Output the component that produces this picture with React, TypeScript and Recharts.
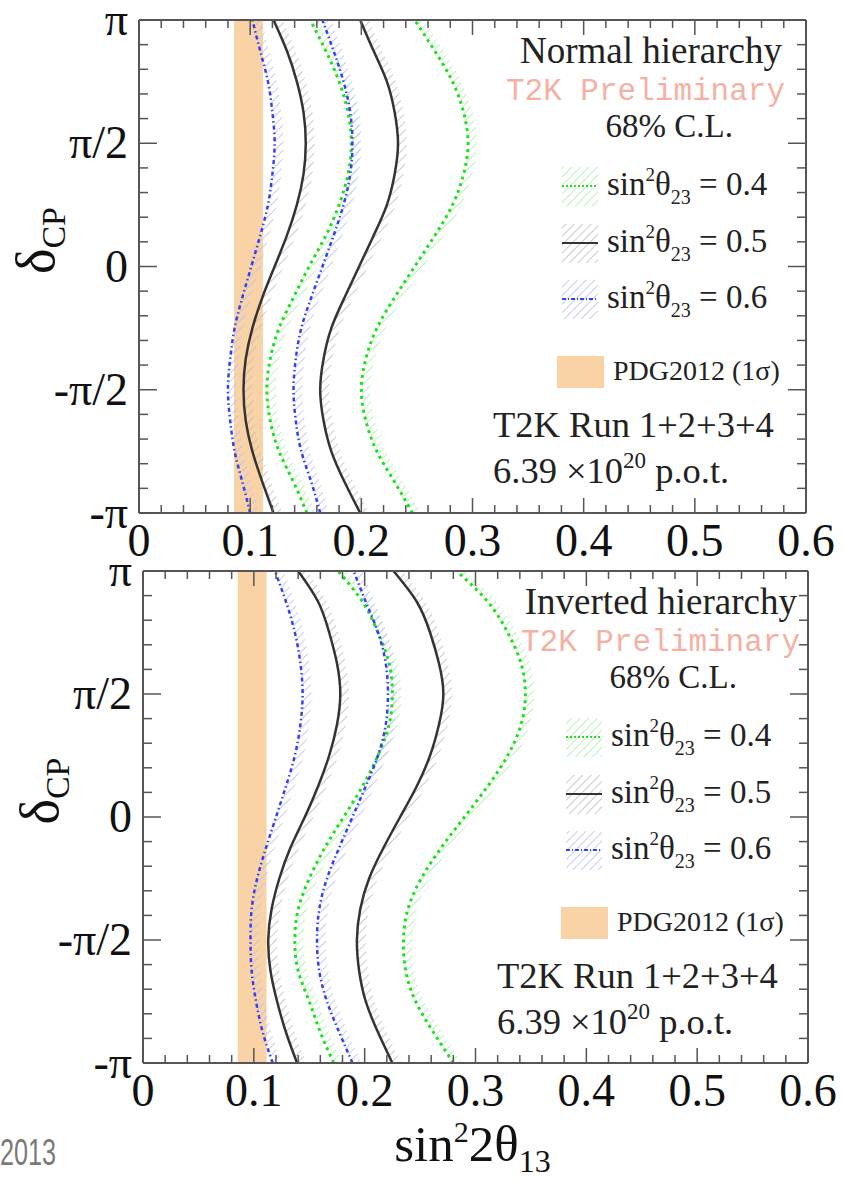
import React from 'react';
import { ComposedChart, Line, Area, XAxis, YAxis, ReferenceArea, Legend } from 'recharts';

// delta_CP sampling points (degrees, -180 = -pi, 180 = pi)
const deltaDeg = [-180, -157.5, -135, -112.5, -90, -67.5, -45, -22.5, 0, 22.5, 45, 67.5, 90, 112.5, 135, 157.5, 180];

// Normal hierarchy: 68% C.L. boundaries (sin^2 2theta13)
const nhGreenLeft = [0.151, 0.139, 0.126, 0.118, 0.115, 0.118, 0.126, 0.139, 0.153, 0.168, 0.180, 0.188, 0.191, 0.188, 0.180, 0.168, 0.154];
const nhGreenRight = [0.246, 0.230, 0.214, 0.204, 0.200, 0.204, 0.214, 0.230, 0.248, 0.266, 0.282, 0.292, 0.296, 0.292, 0.282, 0.266, 0.248];
const nhBlackLeft = [0.121, 0.111, 0.102, 0.096, 0.094, 0.096, 0.102, 0.111, 0.122, 0.133, 0.142, 0.148, 0.150, 0.148, 0.142, 0.133, 0.121];
const nhBlackRight = [0.199, 0.185, 0.173, 0.166, 0.163, 0.166, 0.173, 0.185, 0.198, 0.211, 0.223, 0.230, 0.233, 0.230, 0.223, 0.211, 0.199];
const nhBlueLeft = [0.100, 0.093, 0.086, 0.082, 0.080, 0.082, 0.086, 0.093, 0.101, 0.109, 0.116, 0.120, 0.122, 0.120, 0.116, 0.109, 0.102];
const nhBlueRight = [0.163, 0.155, 0.146, 0.141, 0.139, 0.141, 0.146, 0.155, 0.165, 0.175, 0.184, 0.190, 0.192, 0.190, 0.184, 0.175, 0.165];

// Inverted hierarchy
const ihGreenLeft = [0.172, 0.160, 0.150, 0.140, 0.137, 0.140, 0.150, 0.164, 0.181, 0.198, 0.212, 0.222, 0.225, 0.222, 0.212, 0.198, 0.176];
const ihGreenRight = [0.280, 0.262, 0.246, 0.237, 0.235, 0.239, 0.251, 0.269, 0.290, 0.311, 0.329, 0.341, 0.345, 0.341, 0.329, 0.311, 0.283];
const ihBlackLeft = [0.139, 0.129, 0.121, 0.115, 0.113, 0.116, 0.123, 0.133, 0.146, 0.158, 0.168, 0.175, 0.178, 0.175, 0.168, 0.158, 0.140];
const ihBlackRight = [0.225, 0.212, 0.201, 0.195, 0.193, 0.196, 0.204, 0.217, 0.232, 0.247, 0.259, 0.267, 0.271, 0.267, 0.259, 0.247, 0.226];
const ihBlueLeft = [0.117, 0.108, 0.102, 0.098, 0.097, 0.098, 0.103, 0.111, 0.120, 0.129, 0.137, 0.142, 0.144, 0.142, 0.137, 0.129, 0.119];
const ihBlueRight = [0.189, 0.177, 0.166, 0.159, 0.157, 0.159, 0.166, 0.177, 0.189, 0.201, 0.212, 0.219, 0.221, 0.219, 0.212, 0.201, 0.190];

// PDG2012 1 sigma band and hatched systematic band width
const pdgBand = [0.0855, 0.1115];
const hatchWidth = 0.008;

// ticks
const xMajorTicks = [0, 0.1, 0.2, 0.3, 0.4, 0.5, 0.6];
const xTickLabels = ['0', '0.1', '0.2', '0.3', '0.4', '0.5', '0.6'];
const xMinorTicks = [0.02, 0.04, 0.06, 0.08, 0.12, 0.14, 0.16, 0.18, 0.22, 0.24, 0.26, 0.28, 0.32, 0.34, 0.36, 0.38, 0.42, 0.44, 0.46, 0.48, 0.52, 0.54, 0.56, 0.58];
const yMajorTicks = [-180, -90, 0, 90, 180];
const yTickLabels = ['-\u03c0', '-\u03c0/2', '0', '\u03c0/2', '\u03c0'];
const yMinorTicks = [-162, -144, -126, -108, -72, -54, -36, -18, 18, 36, 54, 72, 108, 126, 144, 162];

const legendValues = ['0.4', '0.5', '0.6'];

const SERIF = '"Liberation Serif", "Times New Roman", serif';
const TICK = '#555';
const GREEN = '#22dd22';
const BLACK = '#333';
const BLUE = '#3340f0';
const ORANGE = '#f9d3a6';
const TICK_FONT = 46;

function buildRows(gL: number[], gR: number[], kL: number[], kR: number[], bL: number[], bR: number[]) {
  return deltaDeg.map((d, i) => ({
    delta: d,
    gL: gL[i], gR: gR[i], kL: kL[i], kR: kR[i], bL: bL[i], bR: bR[i],
    gLh: [gL[i], gL[i] + hatchWidth], gRh: [gR[i], gR[i] + hatchWidth],
    kLh: [kL[i], kL[i] + hatchWidth], kRh: [kR[i], kR[i] + hatchWidth],
    bLh: [bL[i], bL[i] + hatchWidth], bRh: [bR[i], bR[i] + hatchWidth],
  }));
}

const nhRows = buildRows(nhGreenLeft, nhGreenRight, nhBlackLeft, nhBlackRight, nhBlueLeft, nhBlueRight);
const ihRows = buildRows(ihGreenLeft, ihGreenRight, ihBlackLeft, ihBlackRight, ihBlueLeft, ihBlueRight);

const BottomTick = (p: any) => {
  const { x, y, payload } = p;
  const i = xMajorTicks.indexOf(payload.value);
  const len = i >= 0 ? 15 : 8;
  return (
    <g>
      <line x1={x} y1={y} x2={x} y2={y - len} stroke={TICK} strokeWidth={1.5} />
      {i >= 0 && (
        <text x={x} y={y + 43} textAnchor="middle" fontFamily={SERIF} fontSize={TICK_FONT} fill="#111">
          {xTickLabels[i]}
        </text>
      )}
    </g>
  );
};

const TopTick = (p: any) => {
  const { x, y, payload } = p;
  const len = xMajorTicks.indexOf(payload.value) >= 0 ? 15 : 8;
  return <line x1={x} y1={y} x2={x} y2={y + len} stroke={TICK} strokeWidth={1.5} />;
};

const LeftTick = (p: any) => {
  const { x, y, payload } = p;
  const i = yMajorTicks.indexOf(payload.value);
  const len = i >= 0 ? 18 : 9;
  return (
    <g>
      <line x1={x} y1={y} x2={x + len} y2={y} stroke={TICK} strokeWidth={1.5} />
      {i >= 0 && (
        <text x={x - 11} y={y + 15} textAnchor="end" fontFamily={SERIF} fontSize={TICK_FONT} fill="#111">
          {yTickLabels[i]}
        </text>
      )}
    </g>
  );
};

const RightTick = (p: any) => {
  const { x, y, payload } = p;
  const len = yMajorTicks.indexOf(payload.value) >= 0 ? 18 : 9;
  return <line x1={x} y1={y} x2={x - len} y2={y} stroke={TICK} strokeWidth={1.5} />;
};

const YTitle = (p: any) => {
  const vb = p.viewBox || { x: 138, y: 20, height: 493 };
  const cx = vb.x - 84;
  const cy = vb.y + vb.height / 2 - 26;
  return (
    <text transform={`rotate(-90 ${cx} ${cy})`} x={cx} y={cy} textAnchor="middle" fontFamily={SERIF} fontSize={54} fill="#111">
      {'\u03b4'}
      <tspan dy={11} fontSize={34}>CP</tspan>
    </text>
  );
};

const XTitle = (p: any) => {
  const vb = p.viewBox || { x: 143, y: 512, width: 665 };
  const cx = vb.x + vb.width / 2 - 3;
  const cy = vb.y + 98;
  return (
    <text x={cx} y={cy} textAnchor="middle" fontFamily={SERIF} fontSize={51} fill="#111">
      sin<tspan dy={-19} fontSize={30}>2</tspan>
      <tspan dy={19}>2{'\u03b8'}</tspan>
      <tspan dy={11} fontSize={32}>13</tspan>
    </text>
  );
};

const Patterns = ({ suffix }: { suffix: string }) => (
  <defs>
    <pattern id={`hg${suffix}`} patternUnits="userSpaceOnUse" width={6} height={6} patternTransform="rotate(45)">
      <line x1={0} y1={0} x2={0} y2={6} stroke="#a6f0a6" strokeWidth={1.6} />
    </pattern>
    <pattern id={`hk${suffix}`} patternUnits="userSpaceOnUse" width={6} height={6} patternTransform="rotate(45)">
      <line x1={0} y1={0} x2={0} y2={6} stroke="#bcbcbc" strokeWidth={1.6} />
    </pattern>
    <pattern id={`hb${suffix}`} patternUnits="userSpaceOnUse" width={6} height={6} patternTransform="rotate(45)">
      <line x1={0} y1={0} x2={0} y2={6} stroke="#b8bcff" strokeWidth={1.6} />
    </pattern>
  </defs>
);

const legendStyles = [
  { hatch: 'hg', color: GREEN, dash: '2 2', width: 2 },
  { hatch: 'hk', color: BLACK, dash: undefined, width: 2.2 },
  { hatch: 'hb', color: BLUE, dash: '4 2 1 2', width: 2 },
];

function Annotation({ title, sx, sy, titleRight, H, suffix }: { title: string; sx: number; sy: number; titleRight: number; H: number; suffix: string }) {
  const entryBase = [195, 252, 308];
  return (
    <svg width={844} height={H} style={{ display: 'block', overflow: 'visible' }}>
      <Patterns suffix={`L${suffix}`} />
      <g transform={`translate(0 ${sy})`}>
        <text x={titleRight} y={63} textAnchor="end" fontFamily={SERIF} fontSize={37} fill="#222">{title}</text>
        <text x={titleRight + 3} y={100} textAnchor="end" fontFamily='"Liberation Mono", "DejaVu Sans Mono", monospace' fontSize={31} fill="#f5b0a4">T2K Preliminary</text>
        <text x={733 + sx} y={137} textAnchor="end" fontFamily={SERIF} fontSize={33} fill="#222">68% C.L.</text>
        {legendValues.map((v, i) => {
          const st = legendStyles[i];
          const yb = entryBase[i];
          const top = yb - 28;
          return (
            <g key={v}>
              <rect x={562 + sx} y={top} width={36} height={39} fill={`url(#${st.hatch}L${suffix})`} />
              <line x1={562 + sx} y1={top + 19} x2={598 + sx} y2={top + 19} stroke={st.color} strokeWidth={st.width} strokeDasharray={st.dash} />
              <text x={607 + sx} y={yb} fontFamily={SERIF} fontSize={33} fill="#222">
                sin<tspan dy={-14} fontSize={19}>2</tspan>
                <tspan dy={14}>{'\u03b8'}</tspan>
                <tspan dy={9} fontSize={20}>23</tspan>
                <tspan dy={-9}>{` = ${v}`}</tspan>
              </text>
            </g>
          );
        })}
        <rect x={557 + sx} y={356} width={47} height={32} fill={ORANGE} />
        <text x={613 + sx} y={380} fontFamily={SERIF} fontSize={28} fill="#222">PDG2012 (1{'\u03c3'})</text>
        <text x={493 + sx} y={437} fontFamily={SERIF} fontSize={36.5} fill="#222">T2K Run 1+2+3+4</text>
        <text x={493 + sx} y={483} fontFamily={SERIF} fontSize={36.5} fill="#222">
          6.39 {'\u00d7'}10<tspan dy={-15} fontSize={23}>20</tspan>
          <tspan dy={15}> p.o.t.</tspan>
        </text>
      </g>
    </svg>
  );
}

function HierarchyChart(props: {
  rows: any[]; height: number; margin: any; title: string; sx: number; sy: number; titleRight: number; suffix: string; showXTitle: boolean;
}) {
  const { rows, height, margin, title, sx, sy, titleRight, suffix, showXTitle } = props;
  const axisLine = { stroke: TICK, strokeWidth: 2 };
  const xTicks = [...xMajorTicks, ...xMinorTicks];
  const yTicks = [...yMajorTicks, ...yMinorTicks];
  return (
    <ComposedChart width={844} height={height} data={rows} layout="vertical" margin={margin} style={{ overflow: 'visible' }}>
      <Patterns suffix={suffix} />
      <ReferenceArea xAxisId={0} yAxisId={0} x1={pdgBand[0]} x2={pdgBand[1]} y1={-180} y2={180} fill={ORANGE} fillOpacity={1} stroke="none" />
      <Area xAxisId={0} yAxisId={0} dataKey="gLh" type="natural" fill={`url(#hg${suffix})`} fillOpacity={1} stroke="none" isAnimationActive={false} />
      <Area xAxisId={0} yAxisId={0} dataKey="gRh" type="natural" fill={`url(#hg${suffix})`} fillOpacity={1} stroke="none" isAnimationActive={false} />
      <Area xAxisId={0} yAxisId={0} dataKey="kLh" type="natural" fill={`url(#hk${suffix})`} fillOpacity={1} stroke="none" isAnimationActive={false} />
      <Area xAxisId={0} yAxisId={0} dataKey="kRh" type="natural" fill={`url(#hk${suffix})`} fillOpacity={1} stroke="none" isAnimationActive={false} />
      <Area xAxisId={0} yAxisId={0} dataKey="bLh" type="natural" fill={`url(#hb${suffix})`} fillOpacity={1} stroke="none" isAnimationActive={false} />
      <Area xAxisId={0} yAxisId={0} dataKey="bRh" type="natural" fill={`url(#hb${suffix})`} fillOpacity={1} stroke="none" isAnimationActive={false} />
      <Line xAxisId={0} yAxisId={0} dataKey="gL" type="natural" stroke={GREEN} strokeWidth={3} strokeDasharray="3 4" dot={false} isAnimationActive={false} />
      <Line xAxisId={0} yAxisId={0} dataKey="gR" type="natural" stroke={GREEN} strokeWidth={3} strokeDasharray="3 4" dot={false} isAnimationActive={false} />
      <Line xAxisId={0} yAxisId={0} dataKey="kL" type="natural" stroke={BLACK} strokeWidth={2.5} dot={false} isAnimationActive={false} />
      <Line xAxisId={0} yAxisId={0} dataKey="kR" type="natural" stroke={BLACK} strokeWidth={2.5} dot={false} isAnimationActive={false} />
      <Line xAxisId={0} yAxisId={0} dataKey="bL" type="natural" stroke={BLUE} strokeWidth={2.5} strokeDasharray="4 3 1.5 3" dot={false} isAnimationActive={false} />
      <Line xAxisId={0} yAxisId={0} dataKey="bR" type="natural" stroke={BLUE} strokeWidth={2.5} strokeDasharray="4 3 1.5 3" dot={false} isAnimationActive={false} />
      <XAxis xAxisId={0} type="number" domain={[0, 0.6]} allowDataOverflow ticks={xTicks} interval={0} tick={BottomTick}
        tickLine={false} tickSize={0} tickMargin={0} height={1} axisLine={axisLine}
        label={showXTitle ? <XTitle /> : undefined} />
      <XAxis xAxisId="top" orientation="top" type="number" domain={[0, 0.6]} allowDataOverflow ticks={xTicks} interval={0} tick={TopTick}
        tickLine={false} tickSize={0} tickMargin={0} height={1} axisLine={axisLine} />
      <YAxis yAxisId={0} type="number" dataKey="delta" domain={[-180, 180]} reversed allowDataOverflow ticks={yTicks} interval={0} tick={LeftTick}
        tickLine={false} tickSize={0} tickMargin={0} width={1} axisLine={axisLine} label={<YTitle />} />
      <YAxis yAxisId="right" orientation="right" type="number" dataKey="delta" domain={[-180, 180]} reversed allowDataOverflow ticks={yTicks} interval={0} tick={RightTick}
        tickLine={false} tickSize={0} tickMargin={0} width={1} axisLine={axisLine} />
      <Legend layout="horizontal" verticalAlign="middle" align="center"
        wrapperStyle={{ left: 0, top: 0, width: 844, height, pointerEvents: 'none' }}
        content={() => <Annotation title={title} sx={sx} sy={sy} titleRight={titleRight} H={height} suffix={suffix} />} />
    </ComposedChart>
  );
}

export default function App() {
  return (
    <div style={{ position: 'absolute', left: 0, top: 0, width: 844, height: 1182, background: '#fff', overflow: 'hidden' }}>
      <style>{'.recharts-surface { overflow: visible; }'}</style>
      <div style={{ position: 'absolute', left: 0, top: 545 }}>
        <HierarchyChart rows={ihRows} height={637} margin={{ top: 25, left: 142, right: 35, bottom: 118 }}
          title="Inverted hierarchy" sx={4} sy={6} titleRight={797} suffix="ih" showXTitle={true} />
      </div>
      <div style={{ position: 'absolute', left: 0, top: 0 }}>
        <HierarchyChart rows={nhRows} height={568} margin={{ top: 19, left: 138, right: 37, bottom: 54 }}
          title="Normal hierarchy" sx={0} sy={0} titleRight={782} suffix="nh" showXTitle={false} />
      </div>
      <div style={{ position: 'absolute', left: 0, top: 1133, fontFamily: '"Liberation Sans Narrow", "Liberation Sans", sans-serif', fontSize: 36, lineHeight: '40px', color: '#7a7a7a', transform: 'scaleX(0.7)', transformOrigin: 'left top' }}>
        2013
      </div>
    </div>
  );
}
